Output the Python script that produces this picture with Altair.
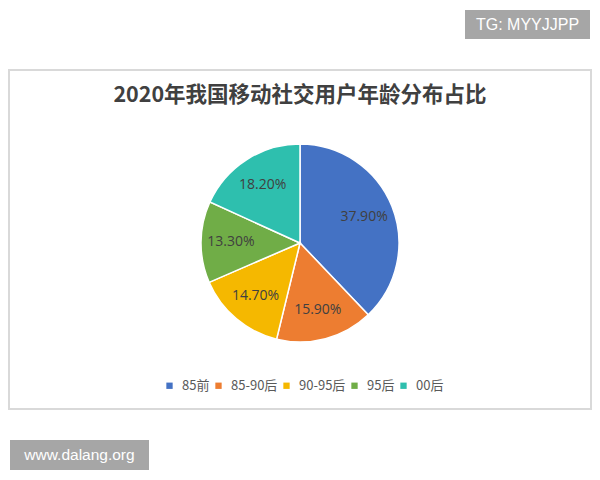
import altair as alt
import pandas as pd

categories = ["85前", "85-90后", "90-95后", "95后", "00后"]
values = [37.9, 15.9, 14.7, 13.3, 18.2]
labels = ["37.90%", "15.90%", "14.70%", "13.30%", "18.20%"]
colors = ["#4472C4", "#ED7D31", "#F5B800", "#70AD47", "#2EBFAE"]
title_text = "2020年我国移动社交用户年龄分布占比"
wm_top = "TG: MYYJJPP"
wm_bottom = "www.dalang.org"

df = pd.DataFrame({"cat": categories, "val": values, "lab": labels,
                   "ord": list(range(len(categories)))})

W, H = 584, 464
CX, CY = 292, 235
R = 99

color = alt.Color("cat:N",
                  scale=alt.Scale(domain=categories, range=colors),
                  legend=alt.Legend(orient="none", legendX=155, legendY=371,
                                    direction="horizontal", title=None,
                                    symbolType="square", symbolSize=40,
                                    symbolStrokeWidth=0,
                                    labelFont="Noto Sans CJK SC", labelFontSize=13,
                                    labelColor="#595959", labelOffset=6,
                                    columnPadding=2, padding=0))

base = alt.Chart(df).encode(
    theta=alt.Theta("val:Q", stack=True),
    order=alt.Order("ord:Q"),
)

pie = base.mark_arc(outerRadius=R, stroke="white", strokeWidth=1.5).encode(
    color=color, x=alt.value(CX), y=alt.value(CY))

txt = base.mark_text(radius=69, font="Open Sans", fontSize=14,
                     color="#404040").encode(
    text="lab:N", x=alt.value(CX), y=alt.value(CY))

deco = pd.DataFrame({"k": [0]})

border = alt.Chart(deco).mark_rect(fill="white", stroke="#d9d9d9",
                                   strokeWidth=2).encode(
    x=alt.value(1), x2=alt.value(583), y=alt.value(62), y2=alt.value(401))

title = alt.Chart(deco).mark_text(font="Noto Sans CJK SC", fontWeight="bold",
                                  fontSize=21.5, color="#404040").encode(
    x=alt.value(292), y=alt.value(88), text=alt.value(title_text))

box1 = alt.Chart(deco).mark_rect(fill="#a6a6a6").encode(
    x=alt.value(457), x2=alt.value(582), y=alt.value(2), y2=alt.value(31))
t1 = alt.Chart(deco).mark_text(font="Liberation Sans", fontSize=16,
                               color="white").encode(
    x=alt.value(519.5), y=alt.value(17), text=alt.value(wm_top))

box2 = alt.Chart(deco).mark_rect(fill="#a6a6a6").encode(
    x=alt.value(2), x2=alt.value(141), y=alt.value(432), y2=alt.value(462))
t2 = alt.Chart(deco).mark_text(font="Liberation Sans", fontSize=15.5,
                               color="white").encode(
    x=alt.value(71.5), y=alt.value(447), text=alt.value(wm_bottom))

chart = alt.layer(border, title, pie, txt, box1, t1, box2, t2).properties(
    width=W, height=H, padding=0, background="white",
    autosize=alt.AutoSizeParams(type="none"),
).configure_view(stroke=None)

chart.save("out.html", embed_options={"renderer": "svg", "actions": False})
